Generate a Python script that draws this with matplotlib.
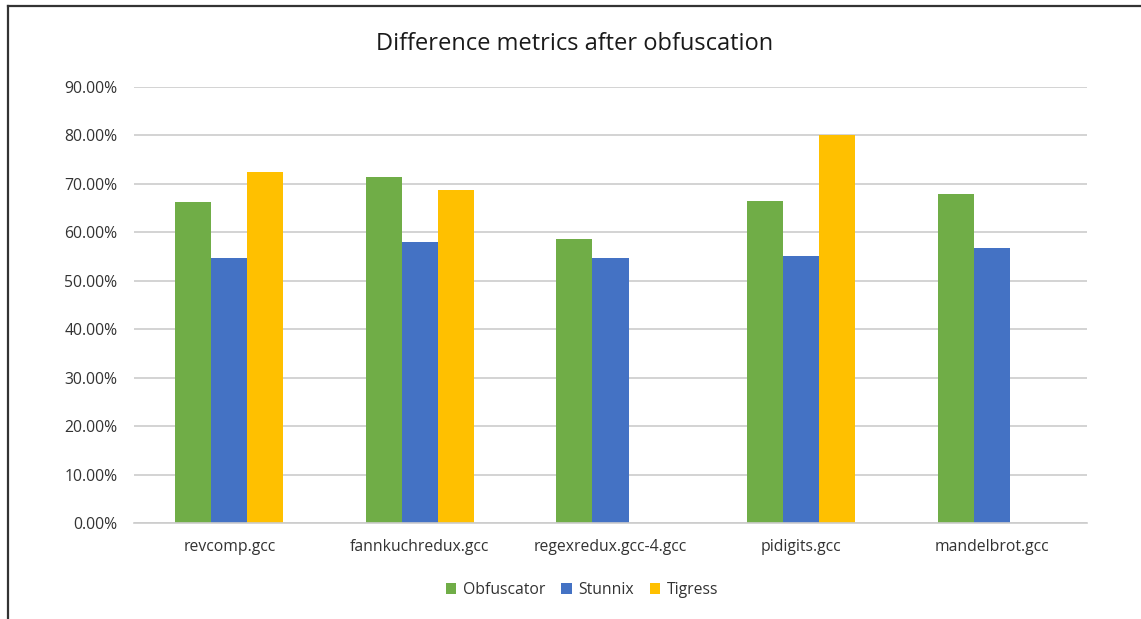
import matplotlib
matplotlib.use("Agg")
import matplotlib.pyplot as plt
from matplotlib.lines import Line2D
from matplotlib.ticker import FuncFormatter, MultipleLocator
import numpy as np

categories = ["revcomp.gcc", "fannkuchredux.gcc", "regexredux.gcc-4.gcc", "pidigits.gcc", "mandelbrot.gcc"]
obfuscator = [66.25, 71.5, 58.7, 66.45, 67.8]
stunnix = [54.8, 57.9, 54.8, 55.2, 56.8]
tigress = [72.4, 68.8, np.nan, 80.0, np.nan]
series_names = ["Obfuscator", "Stunnix", "Tigress"]
colors = ["#70AD47", "#4472C4", "#FFC000"]

plt.rcParams['font.family'] = ['Open Sans', 'DejaVu Sans']

fig = plt.figure(figsize=(11.41, 6.19), dpi=100)
W, H = 1141, 619
ax = fig.add_axes([134 / W, (H - 523.3) / H, (1087 - 134) / W, (523.3 - 86.8) / H])

x = np.arange(len(categories))
bw = 0.189
for i, (vals, name, c) in enumerate(zip([obfuscator, stunnix, tigress], series_names, colors)):
    ax.bar(x + (i - 1) * bw, vals, width=bw, color=c, label=name, zorder=3)

ax.set_xlim(-0.5, len(categories) - 0.5)
ax.set_ylim(0, 90)
ax.yaxis.set_major_locator(MultipleLocator(10))
ax.yaxis.set_major_formatter(FuncFormatter(lambda v, p: f"{v:.2f}%"))
ax.grid(axis='y', color='#CCCCCC', linewidth=1.2, zorder=0)
for s in ['top', 'right', 'left']:
    ax.spines[s].set_visible(False)
ax.spines['bottom'].set_color('#CCCCCC')
ax.spines['bottom'].set_linewidth(1.2)
ax.spines['bottom'].set_zorder(4)
ax.tick_params(axis='both', length=0, labelsize=11.3, colors='#333333')
ax.tick_params(axis='y', pad=12)
ax.tick_params(axis='x', pad=11)
ax.set_xticks(x)
ax.set_xticklabels(categories)

fig.text(0.5 + 4 / W, 1 - 44 / H, "Difference metrics after obfuscation", ha='center', va='center',
         fontsize=17, color='#1A1A1A')

leg = fig.legend(loc='center', bbox_to_anchor=(582 / W, 1 - 590 / H), ncol=3, frameon=False,
                 fontsize=11.3, handlelength=0.65, handleheight=0.65, handletextpad=0.4,
                 columnspacing=1.05, labelcolor='#333333')

fig.add_artist(Line2D([7.5 / W, 7.5 / W], [0, 1 - 5.5 / H], color='#333333', linewidth=1.6))
fig.add_artist(Line2D([7.5 / W, 1], [1 - 5.5 / H, 1 - 5.5 / H], color='#333333', linewidth=1.6))

fig.savefig("out.png", dpi=100)
